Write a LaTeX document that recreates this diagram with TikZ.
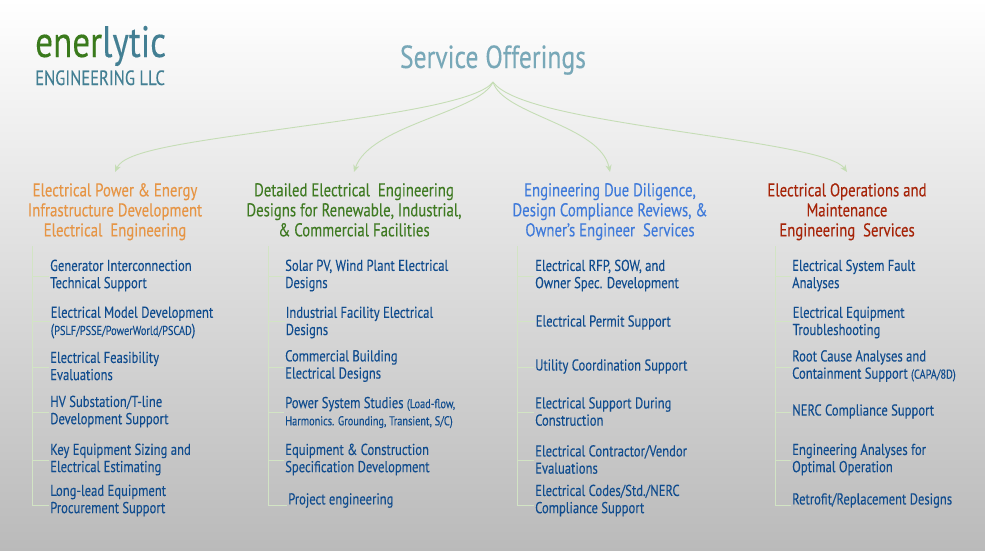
\documentclass[tikz,border=0pt]{standalone}
\usepackage{fontspec}
\setmainfont{PT Sans}[FakeStretch=0.8,FakeBold=0.15]
\usetikzlibrary{arrows.meta}
\definecolor{linegreen}{HTML}{C5DDB5}
\definecolor{tickgreen}{HTML}{D2E4C4}
\definecolor{itemblue}{HTML}{104C8E}
\definecolor{headorange}{HTML}{E69545}
\definecolor{headgreen}{HTML}{3F7A22}
\definecolor{headblue}{HTML}{3F7ADA}
\definecolor{headred}{HTML}{A62408}
\definecolor{svcteal}{HTML}{78A8B8}
\definecolor{logoteal}{HTML}{437F93}
\definecolor{logogreen}{HTML}{3A7A1C}
\newcommand{\smalltxt}[1]{{\fontsize{12.9}{17}\selectfont #1}}
\tikzset{
  x=1pt,y=-1pt,
  flow/.style={draw=linegreen,line width=0.9pt,-{Stealth[length=7pt,width=6pt,inset=2pt]}},
  trunk/.style={draw=tickgreen,line width=0.9pt},
  head/.style={anchor=north,align=center,inner xsep=0pt,inner ysep=11pt,font=\fontsize{18.5}{20}\selectfont},
  item/.style={anchor=west,align=left,inner xsep=1pt,inner ysep=0pt,text=itemblue,font=\fontsize{15.8}{17.2}\selectfont}
}
\begin{document}
\begin{tikzpicture}
\useasboundingbox (0,0) rectangle (985,550);
\shade[top color=white,bottom color=black!27] (0,0) rectangle (985,550);
\node[anchor=base west,inner sep=0pt,font=\fontsize{44}{44}\selectfont] (logo) at (35,57) {\textcolor{logogreen}{ener}\textcolor{logoteal}{lytic}};
\node[anchor=base west,inner sep=0pt,text=logoteal,font=\fontsize{20.7}{22}\selectfont] (logosub) at (35,85) {ENGINEERING LLC};
\node[anchor=center,inner sep=0pt,text=svcteal,font=\fontsize{32}{34}\selectfont] (root) at (493,60) {Service Offerings};
\coordinate (hub) at (493,82);
\node[head,text=headorange] (h1) at (115,172) {Electrical Power \& Energy\\Infrastructure Development\\Electrical~ Engineering};
\node[head,text=headgreen] (h2) at (354,172) {Detailed Electrical~ Engineering\\Designs for Renewable, Industrial,\\\& Commercial Facilities};
\node[head,text=headblue] (h3) at (610,172) {Engineering Due Diligence,\\Design Compliance Reviews, \&\\Owner’s Engineer~ Services};
\node[head,text=headred] (h4) at (847,172) {Electrical Operations and\\Maintenance\\Engineering~ Services};
\draw[flow] (hub) .. controls (480,100) and (400,113) .. (304,126) .. controls (190,142) and (125,150) .. (h1.north);
\draw[flow] (hub) .. controls (480,112) and (370,125) .. (h2.north);
\draw[flow] (hub) .. controls (503,115) and (600,125) .. (h3.north);
\draw[flow] (hub) .. controls (510,105) and (590,118) .. (690,133) .. controls (770,145) and (835,155) .. (h4.north);
% column 1
\coordinate (t1) at (32,246);\coordinate (b1) at (32,505);
\draw[trunk] (t1) -- (b1);
\node[item] (a1) at (49,275.5) {Generator Interconnection\\Technical Support};
\node[item] (a2) at (49.5,322.5) {Electrical Model Development\\(\smalltxt{PSLF/PSSE/PowerWorld/PSCAD})};
\node[item] (a3) at (49,366) {Electrical Feasibility\\Evaluations};
\node[item] (a4) at (49,411.5) {HV Substation/T-line\\Development Support};
\node[item] (a5) at (49,459.5) {Key Equipment Sizing and\\Electrical Estimating};
\node[item] (a6) at (49,500.5) {Long-lead Equipment\\Procurement Support};
\foreach \n/\y in {a1/276,a2/321,a3/367,a4/412,a5/460,a6/505} {\coordinate (k) at (32,\y);\draw[trunk] (k) -- (k -| \n.west);}
% column 2
\coordinate (t2) at (268,246);\coordinate (b2) at (268,505);
\draw[trunk] (t2) -- (b2);
\node[item] (b1n) at (284,275.5) {Solar PV, Wind Plant Electrical\\Designs};
\node[item] (b2n) at (284.5,322.5) {Industrial Facility Electrical\\Designs};
\node[item] (b3n) at (284,366) {Commercial Building\\Electrical Designs};
\node[item] (b4n) at (284,412.5) {Power System Studies \smalltxt{(Load-flow,}\\\smalltxt{Harmonics. Grounding, Transient, S/C)}};
\node[item] (b5n) at (284,459.5) {Equipment \& Construction\\Specification Development};
\node[item] (b6n) at (287,500.5) {Project engineering};
\foreach \n/\y in {b1n/276,b2n/321,b3n/367,b4n/412,b5n/460,b6n/505} {\coordinate (k) at (268,\y);\draw[trunk] (k) -- (k -| \n.west);}
% column 3
\coordinate (t3) at (517,246);\coordinate (b3) at (517,505);
\draw[trunk] (t3) -- (b3);
\node[item] (c1) at (534,275.5) {Electrical RFP, SOW, and\\Owner Spec. Development};
\node[item] (c2) at (534.5,322.5) {Electrical Permit Support};
\node[item] (c3) at (534,366.5) {Utility Coordination Support};
\node[item] (c4) at (534,411.5) {Electrical Support During\\Construction};
\node[item] (c5) at (534,459.5) {Electrical Contractor/Vendor\\Evaluations};
\node[item] (c6) at (534,500.5) {Electrical Codes/Std./NERC\\Compliance Support};
\foreach \n/\y in {c1/276,c2/321,c3/367,c4/412,c5/460,c6/505} {\coordinate (k) at (517,\y);\draw[trunk] (k) -- (k -| \n.west);}
% column 4
\coordinate (t4) at (775,246);\coordinate (b4) at (775,505);
\draw[trunk] (t4) -- (b4);
\node[item] (d1) at (791,275.5) {Electrical System Fault\\Analyses};
\node[item] (d2) at (791.5,322.5) {Electrical Equipment\\Troubleshooting};
\node[item] (d3) at (791,366) {Root Cause Analyses and\\Containment Support \smalltxt{(CAPA/8D)}};
\node[item] (d4) at (791,411.5) {NERC Compliance Support};
\node[item] (d5) at (791,459.5) {Engineering Analyses for\\Optimal Operation};
\node[item] (d6) at (791,500.5) {Retrofit/Replacement Designs};
\foreach \n/\y in {d1/276,d2/321,d3/367,d4/412,d5/460,d6/505} {\coordinate (k) at (775,\y);\draw[trunk] (k) -- (k -| \n.west);}
\end{tikzpicture}
\end{document}
